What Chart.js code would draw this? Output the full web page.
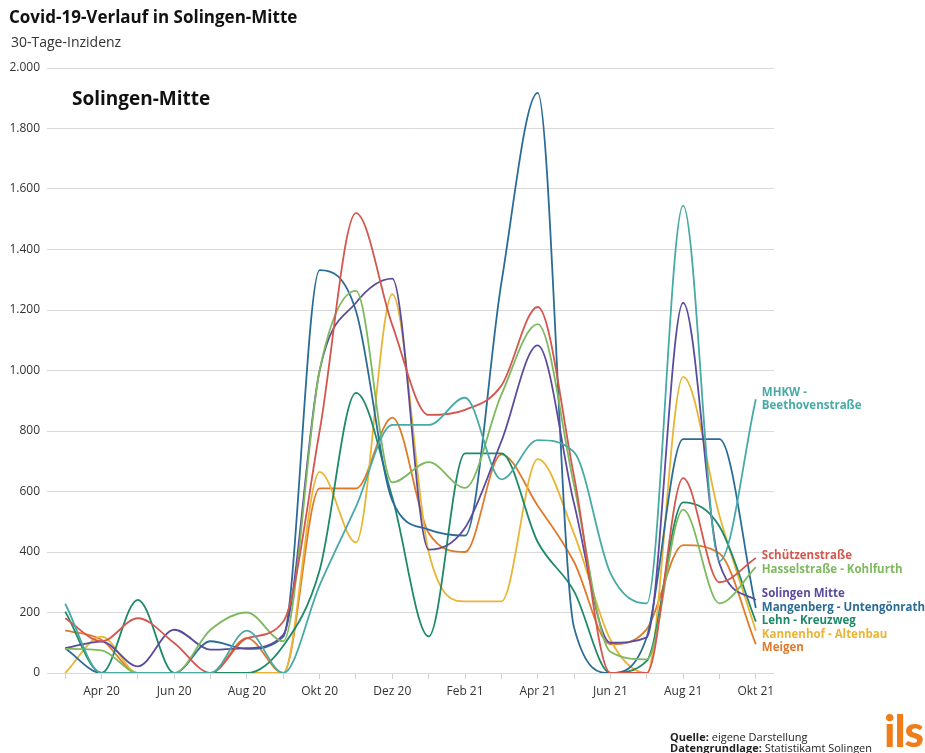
<!DOCTYPE html>
<html lang="de">
<head>
<meta charset="utf-8">
<title>Covid-19-Verlauf in Solingen-Mitte</title>
<script src="https://cdn.jsdelivr.net/npm/chart.js@4/dist/chart.umd.min.js"></script>
<style>
  body { margin: 0; background: #fff; font-family: "Open Sans", sans-serif; }
  #wrap { position: relative; width: 925px; height: 753px; overflow: hidden; }
  #chart { position: absolute; left: 0; top: 0; }
  .txt { position: absolute; white-space: nowrap; color: #111; }
</style>
</head>
<body>
<div id="wrap">
  <canvas id="chart" width="925" height="753"></canvas>
  <div class="txt" style="left:9px; top:5px; font-weight:700; font-size:17px;">Covid-19-Verlauf in Solingen-Mitte</div>
  <div class="txt" style="left:11px; top:32px; font-size:14px; color:#333;">30-Tage-Inzidenz</div>
  <div class="txt" style="left:72px; top:85px; font-weight:700; font-size:19px;">Solingen-Mitte</div>
  <div class="txt" style="left:670px; top:731px; font-size:11px; line-height:11px; color:#222;"><b>Quelle:</b> eigene Darstellung<br><b>Datengrundlage:</b> Statistikamt Solingen</div>
  <div class="txt" style="left:884px; top:704px; font-family:Lato, sans-serif; font-weight:900; font-size:44px; color:#ef7d1a; letter-spacing:-1px;">ils</div>
</div>
<script>
// Monate März 2020 bis Oktober 2021
const months = ['Mär 20', 'Apr 20', 'Mai 20', 'Jun 20', 'Jul 20', 'Aug 20', 'Sep 20', 'Okt 20', 'Nov 20', 'Dez 20',
                'Jan 21', 'Feb 21', 'Mär 21', 'Apr 21', 'Mai 21', 'Jun 21', 'Jul 21', 'Aug 21', 'Sep 21', 'Okt 21'];

// 30-Tage-Inzidenz je Quartier
const mhkw        = [229, 0, 0, 0, 0, 140, 0, 290, 550, 820, 820, 910, 640, 770, 730, 330, 230, 1545, 370, 905];
const schuetzen   = [181, 105, 181, 99, 0, 115, 170, 800, 1520, 1150, 853, 870, 950, 1210, 650, 0, 0, 644, 300, 380];
const hassel      = [80, 75, 0, 0, 143, 200, 105, 1000, 1263, 630, 697, 612, 920, 1153, 620, 70, 45, 540, 230, 350];
const solingen    = [82, 104, 22, 143, 77, 82, 126, 1000, 1224, 1304, 408, 480, 766, 1083, 560, 100, 118, 1224, 362, 241];
const mangenberg  = [82, 0, 0, 0, 105, 80, 120, 1332, 1197, 570, 474, 454, 1290, 1918, 150, 0, 119, 773, 773, 215];
const lehn        = [203, 0, 242, 0, 0, 0, 90, 340, 926, 580, 121, 726, 726, 433, 270, 0, 40, 564, 484, 170];
const kannenhof   = [0, 120, 0, 0, 0, 0, 0, 665, 432, 1252, 400, 237, 237, 707, 460, 110, 0, 979, 520, 140];
const meigen      = [141, 110, 0, 0, 0, 115, 0, 610, 610, 844, 463, 400, 723, 553, 367, 95, 145, 423, 395, 95];

const seriesNames  = ['MHKW - Beethovenstraße', 'Schützenstraße', 'Hasselstraße - Kohlfurth', 'Solingen Mitte',
                      'Mangenberg - Untengönrath', 'Lehn - Kreuzweg', 'Kannenhof - Altenbau', 'Meigen'];
const seriesData   = [mhkw, schuetzen, hassel, solingen, mangenberg, lehn, kannenhof, meigen];
const seriesColors = ['#47aaa4', '#d4574f', '#7db95e', '#5b4b9f', '#2b6c97', '#1f8a68', '#e9b535', '#e07a2b'];

const fmt = v => String(v).replace(/\B(?=(\d{3})+(?!\d))/g, '.');

// Beschriftung am Linienende, Überlappungen auseinanderschieben
const endLabels = {
  id: 'endLabels',
  afterDatasetsDraw(chart) {
    const ctx = chart.ctx;
    const items = chart.data.datasets.map((ds, i) => {
      const meta = chart.getDatasetMeta(i);
      const pt = meta.data[meta.data.length - 1];
      const lines = i === 0 ? ['MHKW -', 'Beethovenstraße'] : [ds.label];
      return { y: pt.y, x: pt.x, lines, color: ds.borderColor, h: lines.length * 13 };
    }).sort((a, b) => a.y - b.y);
    for (let k = 0; k < 50; k++) {
      for (let i = 1; i < items.length; i++) {
        const a = items[i - 1], b = items[i];
        const need = (a.h + b.h) / 2 + 0.5;
        const d = b.y - a.y;
        if (d < need) {
          const s = (need - d) / 2;
          a.y -= s; b.y += s;
        }
      }
    }
    ctx.save();
    ctx.font = 'bold 11.5px "Open Sans"';
    ctx.textBaseline = 'middle';
    items.forEach(it => {
      ctx.fillStyle = it.color;
      const top = it.y - it.h / 2 + 6.5;
      it.lines.forEach((t, j) => ctx.fillText(t, it.x + 6, top + j * 13));
    });
    ctx.restore();
  }
};

new Chart(document.getElementById('chart'), {
  type: 'line',
  data: {
    labels: months,
    datasets: seriesNames.map((name, i) => ({
      label: name,
      data: seriesData[i],
      borderColor: seriesColors[i],
      borderWidth: 1.8,
      pointRadius: 0,
      cubicInterpolationMode: 'monotone',
      fill: false
    }))
  },
  options: {
    responsive: false,
    animation: false,
    layout: { padding: { left: 0, right: 151, top: 68, bottom: 0 } },
    plugins: { legend: { display: false }, tooltip: { enabled: false } },
    scales: {
      x: {
        offset: true,
        grid: { drawOnChartArea: false, drawTicks: true, tickLength: 6, color: '#cfcfcf' },
        border: { display: false },
        ticks: {
          autoSkip: false, maxRotation: 0, padding: 5,
          color: '#333', font: { family: 'Open Sans', size: 12 },
          callback: (v, i) => (i % 2 === 1 ? months[i] : '')
        },
        afterFit: s => { s.height = 80; }
      },
      y: {
        min: 0, max: 2000,
        ticks: { stepSize: 200, padding: 7, color: '#333', font: { family: 'Open Sans', size: 12 }, callback: v => fmt(v) },
        grid: { drawTicks: false, color: '#d9d9d9' },
        border: { display: false },
        afterFit: s => { s.width = 47; }
      }
    }
  },
  plugins: [endLabels]
});
</script>
</body>
</html>
